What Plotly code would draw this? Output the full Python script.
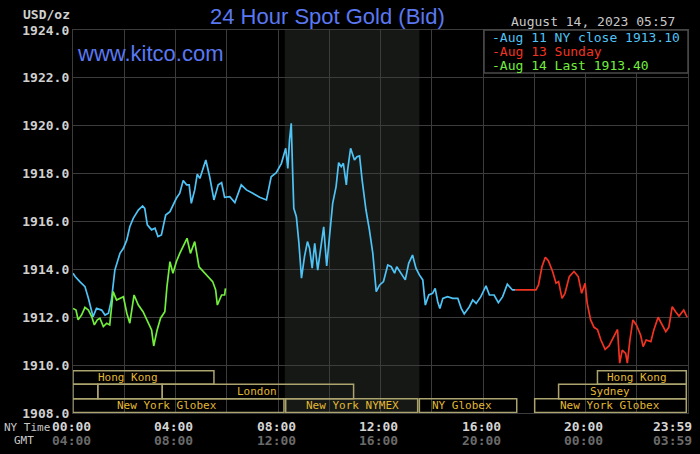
import plotly.graph_objects as go

# Aug 11 (blue), minutes after 00:00 NY time
blue_min = [0, 5, 16, 28, 36, 47, 55, 67, 75, 83, 90, 98, 110, 118, 126,
            133, 141, 153, 163, 168, 174, 184, 192, 199, 207, 217, 227, 242, 250, 258,
            266, 272, 277, 285, 291, 297, 311, 320, 330, 340, 348, 355, 367, 379, 394,
            406, 421, 437, 453, 464, 476, 488, 498, 503, 507, 511,
            514, 517, 523, 529, 535, 542, 549, 554, 560, 566, 573, 581, 587, 594, 601,
            608, 616, 622, 628, 633, 640, 643, 650, 659, 665, 671, 677, 686, 694, 702,
            710, 718, 727, 737, 745, 753, 758, 768, 778, 786, 795, 803, 811, 819, 825,
            833, 842, 848, 854, 859, 866, 877, 889, 901, 909, 916, 928, 936, 944, 955,
            967, 975, 986, 996, 1006, 1017, 1029, 1035]
blue_val = [1913.84, 1913.70, 1913.49, 1913.28, 1912.79, 1912.02, 1912.37, 1912.30, 1912.09, 1912.17,
            1912.72, 1913.97, 1914.67, 1914.88, 1915.23,
            1915.78, 1916.13, 1916.48, 1916.65, 1916.55, 1915.86, 1915.65, 1915.72, 1915.37, 1915.44,
            1916.27, 1916.41, 1916.97, 1917.18, 1917.71, 1917.53, 1917.53, 1916.76, 1917.32, 1917.98,
            1917.80, 1918.57, 1917.87, 1916.90, 1917.53, 1917.62, 1917.01, 1917.04, 1916.79, 1917.53,
            1917.32, 1917.18, 1917.01, 1916.90, 1917.87, 1918.04, 1918.43, 1919.06, 1918.22, 1919.41,
            1920.10,
            1918.22, 1916.55, 1916.20, 1915.09, 1913.63, 1914.53, 1915.16, 1914.88, 1914.05, 1915.09,
            1913.97, 1915.09, 1915.78, 1914.14, 1915.37, 1916.76, 1917.46, 1918.46, 1918.29, 1918.43,
            1917.53, 1918.15, 1919.06, 1918.57, 1918.71, 1918.74, 1917.73, 1916.48, 1915.65, 1914.67,
            1913.07, 1913.35, 1913.49, 1914.18, 1914.11, 1913.84, 1914.11, 1913.84, 1913.56, 1914.25,
            1914.60, 1914.05, 1913.77, 1913.56, 1912.51, 1912.93, 1913.00, 1913.21, 1912.65, 1912.37,
            1912.79, 1912.86, 1912.79, 1912.79, 1912.37, 1912.14, 1912.44, 1912.72, 1912.58, 1912.86,
            1913.31, 1912.93, 1912.93, 1912.61, 1912.86, 1913.38, 1913.14, 1913.14]

# Aug 13 Sunday (red)
red_min = [1035, 1084, 1090, 1098, 1106, 1113, 1123, 1131, 1137, 1145, 1152, 1162, 1173, 1183,
           1191, 1199, 1204, 1212, 1220, 1228, 1236, 1246, 1255, 1267, 1275, 1280, 1286, 1294,
           1298, 1304, 1311, 1319, 1329, 1335, 1342, 1353, 1360, 1370, 1380, 1388, 1395, 1403,
           1411, 1419, 1430, 1438]
red_val = [1913.14, 1913.14, 1913.35, 1914.11, 1914.51, 1914.36, 1913.91, 1913.42, 1913.49, 1912.79,
           1913.00, 1913.70, 1913.91, 1913.70, 1913.00, 1913.42, 1912.58, 1911.89, 1911.58, 1911.49,
           1911.05, 1910.66, 1910.80, 1911.19, 1911.49, 1910.08, 1910.63, 1910.49, 1910.08, 1911.05,
           1911.89, 1911.68, 1911.26, 1910.77, 1911.05, 1910.98, 1911.47, 1912.00, 1911.64, 1911.40,
           1911.58, 1912.44, 1912.23, 1912.05, 1912.30, 1912.00]

# Aug 14 (green)
green_min = [0, 7, 12, 20, 28, 36, 44, 50, 57, 63, 71, 79, 86, 94, 102, 110, 118, 126, 133, 143,
             153, 164, 176, 184, 189, 197, 205, 215, 220, 227, 234, 242, 250, 258, 267, 275, 285,
             295, 305, 316, 327, 334, 338, 348, 355, 357]
green_val = [1912.37, 1912.30, 1911.89, 1912.09, 1912.41, 1912.30, 1912.02, 1911.68, 1911.89, 1911.96,
             1911.61, 1911.75, 1911.68, 1913.07, 1912.72, 1912.79, 1912.86, 1912.17, 1911.75, 1912.93,
             1912.51, 1912.23, 1911.75, 1911.47, 1910.80, 1911.47, 1911.96, 1912.23, 1913.28, 1914.32,
             1913.84, 1914.32, 1914.67, 1914.95, 1915.30, 1914.67, 1915.16, 1914.11, 1913.91, 1913.70,
             1913.49, 1913.14, 1912.51, 1912.93, 1912.93, 1913.21]

legend_text = ["Aug 11 NY close 1913.10", "Aug 13 Sunday", "Aug 14 Last 1913.40"]

tick_min = [0, 240, 480, 720, 960, 1200, 1440]
ny_ticks = ["00:00", "04:00", "08:00", "12:00", "16:00", "20:00", "23:59"]
gmt_ticks = ["04:00", "08:00", "12:00", "16:00", "20:00", "00:00", "03:59"]

# trading sessions: name, start, end (minutes), row (0 = top), label position
sessions = [
    ("Hong Kong", 0, 330, 0, 129),
    ("", 0, 58, 1, None),
    ("", 58, 209, 1, None),
    ("London", 209, 657, 1, 430),
    ("New York Globex", 0, 494, 2, 219),
    ("New York NYMEX", 498, 807, 2, 654),
    ("NY Globex", 811, 1039, 2, 911),
    ("New York Globex", 1081, 1436, 2, 1257),
    ("Sydney", 1137, 1436, 1, 1257),
    ("Hong Kong", 1228, 1436, 0, 1321),
]
nymex_open, nymex_close = 496, 811

# layout in pixels
W, H = 700, 454
L, R, T, B = 73, 688, 30, 413
MONO = "DejaVu Sans Mono"
SANS = "Liberation Sans"
GRID = "#3c3c3c"
BLUE, RED, GREEN = "#4fc3f5", "#f23322", "#72ee3c"


def px(x):
    return (x - L) / (R - L)


def py(y):
    return (B - y) / (B - T)


fig = go.Figure()
for xs, ys, col in [(blue_min, blue_val, BLUE), (red_min, red_val, RED), (green_min, green_val, GREEN)]:
    fig.add_trace(go.Scatter(x=xs, y=ys, mode="lines", line=dict(color=col, width=1.7),
                             hoverinfo="skip", showlegend=False))

shapes = [dict(type="rect", xref="x", yref="y", x0=nymex_open, x1=nymex_close, y0=1908, y1=1924,
               fillcolor="#151815", line=dict(width=0), layer="below")]

row_y = [(1909.2, 1909.77), (1908.6, 1909.2), (1908.02, 1908.6)]
annotations = []
for name, x0, x1, row, lx in sessions:
    y0, y1 = row_y[row]
    shapes.append(dict(type="rect", xref="x", yref="y", x0=x0, x1=x1, y0=y0, y1=y1,
                       line=dict(color="#aca46e", width=1.5), fillcolor="rgba(0,0,0,0)", layer="above"))
    if name:
        annotations.append(dict(x=lx, y=(y0 + y1) / 2, xref="x", yref="y", text=name, showarrow=False,
                                font=dict(family=MONO, size=11, color="#e2b834"),
                                xanchor="center", yanchor="middle"))

# legend box
shapes.append(dict(type="rect", xref="paper", yref="paper", x0=px(484), x1=1, y0=py(73), y1=1,
                   fillcolor="#000000", line=dict(color="#4a4a4a", width=1.5), layer="above"))
for i, (txt, col) in enumerate(zip(legend_text, [BLUE, RED, GREEN])):
    annotations.append(dict(x=px(490), y=py(37.5 + 13.8 * i), xref="paper", yref="paper",
                            text="-" + txt, showarrow=False, xanchor="left", yanchor="middle",
                            font=dict(family=MONO, size=13, color=col)))

# time axis labels
for i, (m, a, b) in enumerate(zip(tick_min, ny_ticks, gmt_ticks)):
    if i == len(tick_min) - 1:
        anchor, shift = "right", 6
    else:
        anchor, shift = "center", -2
    annotations.append(dict(x=m, y=py(426), xref="x", yref="paper", text=a, showarrow=False,
                            xanchor=anchor, yanchor="middle", xshift=shift,
                            font=dict(family=MONO, size=13, color="#d4d4d4", weight="bold")))
    annotations.append(dict(x=m, y=py(441), xref="x", yref="paper", text=b, showarrow=False,
                            xanchor=anchor, yanchor="middle", xshift=shift,
                            font=dict(family=MONO, size=13, color="#6a6a6a", weight="bold")))

annotations += [
    dict(x=px(2), y=py(427), text="NY Time", xanchor="left"),
    dict(x=px(12), y=py(441), text="GMT", xanchor="left"),
]
for a in annotations[-2:]:
    a.update(xref="paper", yref="paper", showarrow=False, yanchor="middle",
             font=dict(family=MONO, size=11, color="#c8c8c8"))

annotations += [
    dict(x=px(21), y=py(15), xref="paper", yref="paper", text="USD/oz", showarrow=False,
         xanchor="left", yanchor="middle", font=dict(family=MONO, size=13, color="#d0d0d0", weight="bold")),
    dict(x=px(327), y=py(16), xref="paper", yref="paper", text="24 Hour Spot Gold (Bid)", showarrow=False,
         xanchor="center", yanchor="middle", font=dict(family=SANS, size=22, color="#5a78f2")),
    dict(x=px(75), y=py(54), xref="paper", yref="paper", text="www.kitco.com", showarrow=False,
         xanchor="left", yanchor="middle", font=dict(family=SANS, size=22, color="#5a78f2")),
    dict(x=px(677), y=py(22), xref="paper", yref="paper", text="August 14, 2023 05:57", showarrow=False,
         xanchor="right", yanchor="middle", font=dict(family=MONO, size=13, color="#c8c8c8")),
]

fig.update_layout(
    width=W, height=H,
    margin=dict(l=L, r=W - R, t=T, b=H - B),
    paper_bgcolor="#000000", plot_bgcolor="#000000",
    shapes=shapes, annotations=annotations, showlegend=False,
    xaxis=dict(range=[0, 1440], tick0=0, dtick=120, showgrid=True, gridcolor=GRID, gridwidth=1.3,
               showticklabels=False, ticks="", zeroline=False, showline=True, mirror=True,
               linecolor=GRID, linewidth=1.3, fixedrange=True),
    yaxis=dict(range=[1908, 1924], tick0=1908, dtick=2, tickformat=".1f", showgrid=True,
               gridcolor=GRID, gridwidth=1.3, ticks="", zeroline=False, showline=True, mirror=True,
               linecolor=GRID, linewidth=1.3, fixedrange=True,
               tickfont=dict(family=MONO, size=13, color="#d0d0d0", weight="bold")),
)

# the page's default body margin would push the 700x454 figure off the window
fig.write_html("out.html", config={"displayModeBar": False},
               post_script="document.body.style.margin = '0px';")
